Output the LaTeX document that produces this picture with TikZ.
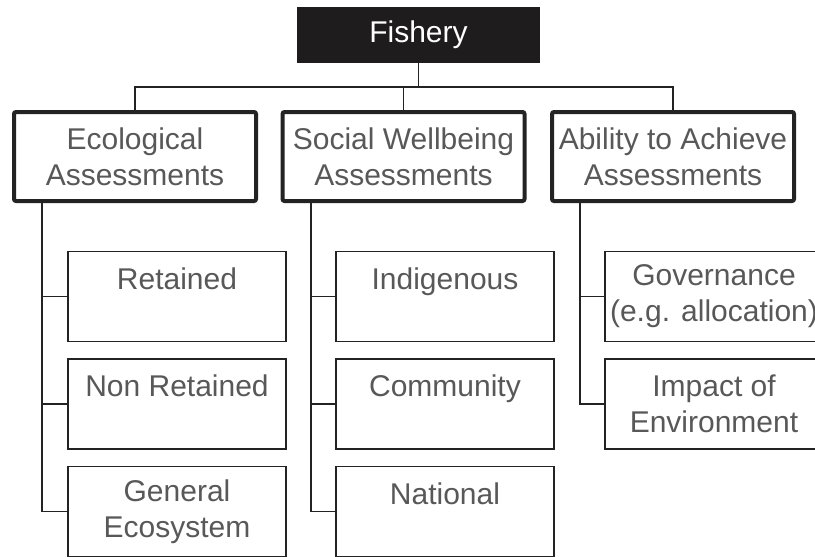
\documentclass[tikz,border=0pt]{standalone}
\usepackage{fontspec}
\setmainfont{Liberation Sans}

\definecolor{fishblack}{RGB}{30,28,28}
\definecolor{linegray}{RGB}{35,35,35}
\definecolor{txtgray}{RGB}{88,88,88}

\tikzset{
  topbox/.style={fill=fishblack, text=white, minimum width=121.5pt, minimum height=28pt, inner sep=0pt},
  assessbox/.style={draw=linegray, line width=2pt, rounded corners=1pt, minimum width=121pt, minimum height=44.5pt, align=center, text=txtgray, inner sep=0pt, execute at begin node={\rule{0pt}{16pt}}},
  subbox/.style={draw=linegray, line width=0.85pt, minimum width=109pt, minimum height=45pt, align=center, text=txtgray, inner sep=0pt},
  link/.style={draw=linegray, line width=0.85pt},
}

\begin{document}
\begin{tikzpicture}[x=0.5pt, y=-0.5pt, font=\fontsize{15}{18}\selectfont]
                        \useasboundingbox (0,0) rectangle (815,557);

                        % Marking box fishery
                        \node [topbox] (fishery) at (418.5,35) {Fishery};%

                        % Marking box ecol
                        \node [assessbox] (ecol) at (135,156.5) {Ecological\\Assessments};%

                        % Marking box social
                        \node [assessbox] (social) at (403.5,156.5) {Social Wellbeing\\Assessments};%

                        % Marking box ability
                        \node [assessbox] (ability) at (673,156.5) {Ability to Achieve\\Assessments};%

                        % Marking boxes under ecol
                        \node [subbox] (retained) at (177,296.5) {Retained\\~};%
                        \node [subbox] (nonret) at (177,404) {Non Retained\\~};%
                        \node [subbox] (general) at (177,511.5) {General\\Ecosystem};%

                        % Marking boxes under social
                        \node [subbox] (indig) at (445,296.5) {Indigenous\\~};%
                        \node [subbox] (commun) at (445,404) {Community\\~};%
                        \node [subbox] (national) at (445,511.5) {National\\~};%

                        % Marking boxes under ability
                        \node [subbox] (govern) at (714,296.5) {Governance\\(e.g. allocation)};%
                        \node [subbox] (impact) at (714,404) {Impact of\\Environment};%

                        % Drawing line fishery to assessments
                        \coordinate (bus) at (418.5,87);
                        \draw [link] (fishery.south) -- (bus);%
                        \draw [link] (ecol.north) |- (bus) -| (ability.north);%
                        \draw [link] (social.north) -- (social.north |- bus);%

                        % Drawing line ecol trunk
                        \coordinate (ecoltrunk) at (42,201);
                        \draw [link] (ecoltrunk) |- (general.west);%
                        \draw [link] (ecoltrunk |- retained.west) -- (retained.west);%
                        \draw [link] (ecoltrunk |- nonret.west) -- (nonret.west);%

                        % Drawing line social trunk
                        \coordinate (socialtrunk) at (311,201);
                        \draw [link] (socialtrunk) |- (national.west);%
                        \draw [link] (socialtrunk |- indig.west) -- (indig.west);%
                        \draw [link] (socialtrunk |- commun.west) -- (commun.west);%

                        % Drawing line ability trunk
                        \coordinate (abilitytrunk) at (580,201);
                        \draw [link] (abilitytrunk) |- (impact.west);%
                        \draw [link] (abilitytrunk |- govern.west) -- (govern.west);%
\end{tikzpicture}
\end{document}
